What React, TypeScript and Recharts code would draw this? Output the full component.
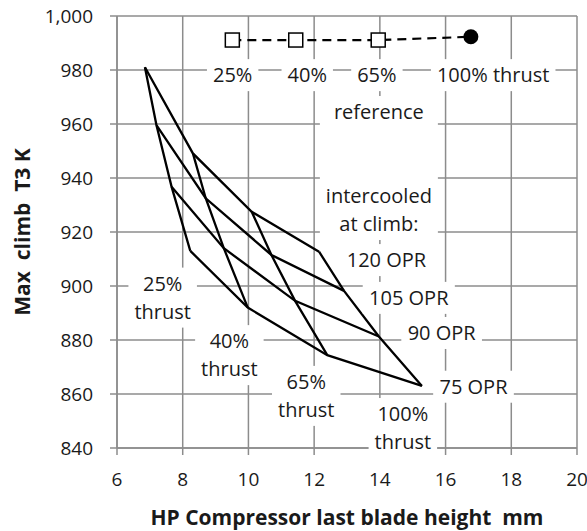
import { useLayoutEffect, useRef, useState } from "react";
import {
  ComposedChart,
  CartesianGrid,
  XAxis,
  YAxis,
  Line,
  ReferenceDot,
  Label,
} from "recharts";

// carpet nodes: blade height (mm) and max climb T3 (K), one row per OPR,
// columns are 25%, 40%, 65%, 100% thrust
const OPR_LEVELS = [120, 105, 90, 75];
const THRUST_LEVELS = ["25%", "40%", "65%", "100%"];

const blade120 = [6.85, 8.31, 10.1, 12.15];
const blade105 = [7.2, 8.7, 10.7, 12.91];
const blade90 = [7.66, 9.25, 11.42, 13.97];
const blade75 = [8.23, 9.98, 12.4, 15.28];

const t3_120 = [981.0, 949.1, 927.5, 912.7];
const t3_105 = [959.6, 932.5, 911.5, 898.2];
const t3_90 = [936.8, 914.0, 894.5, 881.3];
const t3_75 = [913.0, 892.0, 874.4, 863.0];

// reference (non intercooled) engine
const refBlade = [9.51, 11.44, 13.95, 16.77];
const refT3 = [991.1, 991.1, 991.1, 992.3];

const X_TICKS = [6, 8, 10, 12, 14, 16, 18, 20];
const Y_TICKS = [840, 860, 880, 900, 920, 940, 960, 980, 1000];

// annotations (anchored in data units)
const noteLines = [
  ["25%"],
  ["40%"],
  ["65%"],
  ["100% thrust"],
  ["reference", "", "", "intercooled", "at climb:"],
  ["120 OPR"],
  ["105 OPR"],
  ["90 OPR"],
  ["75 OPR"],
  ["25%", "thrust"],
  ["40%", "thrust"],
  ["65%", "thrust"],
  ["100%", "thrust"],
];
const noteX = [9.52, 11.79, 13.91, 17.45, 13.97, 14.2, 14.88, 15.88, 16.85, 7.39, 9.42, 11.76, 14.7];
const noteY = [978.1, 978.1, 978.1, 978.1, 943.7, 909.6, 895.6, 882.6, 862.7, 895.7, 874.4, 859.3, 847.4];

const GRID = "#8c8c8c";
const INK = "#1a1a1a";
const FS = 19;
const NOTE_FS = 20;
const LH = 28;

const bladeRows = [blade120, blade105, blade90, blade75];
const t3Rows = [t3_120, t3_105, t3_90, t3_75];

const oprLines = OPR_LEVELS.map((opr, i) => ({
  name: `${opr} OPR`,
  points: bladeRows[i].map((x, j) => ({ x, y: t3Rows[i][j] })),
}));

const thrustLines = THRUST_LEVELS.map((t, j) => ({
  name: `${t} thrust`,
  points: OPR_LEVELS.map((_, i) => ({ x: bladeRows[i][j], y: t3Rows[i][j] })),
}));

const refPoints = refBlade.map((x, i) => ({ x, y: refT3[i] }));

function NoteBox({ cx, cy, lines }: { cx: number; cy: number; lines: string[] }) {
  const ref = useRef<SVGTextElement>(null);
  const [w, setW] = useState(0);
  useLayoutEffect(() => {
    if (ref.current) setW(ref.current.getBBox().width);
  }, []);
  const n = lines.length;
  const h = n * LH + 4;
  const firstBase = cy - ((n - 1) * LH) / 2 + NOTE_FS * 0.36;
  return (
    <g>
      <rect x={cx - w / 2 - 6} y={cy - h / 2} width={w + 12} height={h} fill="#fff" />
      <text ref={ref} textAnchor="middle" fontSize={NOTE_FS} fill={INK}>
        {lines.map((s, k) => (
          <tspan key={k} x={cx} y={firstBase + k * LH}>
            {s}
          </tspan>
        ))}
      </text>
    </g>
  );
}

function RefMarker(props: any) {
  const { cx, cy, index } = props;
  if (index === refPoints.length - 1) {
    return <circle key={index} cx={cx} cy={cy} r={7.5} fill="#000" />;
  }
  return (
    <rect
      key={index}
      x={cx - 7}
      y={cy - 7}
      width={14}
      height={14}
      fill="#fff"
      stroke="#000"
      strokeWidth={1.5}
    />
  );
}

export default function App() {
  return (
    <div
      style={{
        position: "absolute",
        left: 0,
        top: 0,
        width: 587,
        height: 531,
        background: "#fff",
        fontFamily: '"Open Sans", sans-serif',
      }}
    >
      <ComposedChart width={587} height={531} margin={{ top: 16, right: 10, bottom: 0, left: 0 }}>
        <CartesianGrid stroke={GRID} strokeWidth={1.5} />
        <XAxis
          type="number"
          dataKey="x"
          domain={[6, 20]}
          ticks={X_TICKS}
          height={83}
          tickSize={7}
          tickMargin={18}
          axisLine={{ stroke: GRID, strokeWidth: 1.5 }}
          tickLine={{ stroke: GRID, strokeWidth: 1.5 }}
          tick={{ fontSize: FS, fill: INK }}
        >
          <Label
            value={"HP Compressor last blade height\u00a0 mm"}
            position="insideBottom"
            offset={6}
            style={{ fontSize: 21, fontWeight: 700, fill: INK }}
          />
        </XAxis>
        <YAxis
          type="number"
          dataKey="y"
          domain={[840, 1000]}
          ticks={Y_TICKS}
          width={117}
          tickSize={7}
          tickMargin={17}
          axisLine={{ stroke: GRID, strokeWidth: 1.5 }}
          tickLine={{ stroke: GRID, strokeWidth: 1.5 }}
          tick={{ fontSize: FS, fill: INK }}
          tickFormatter={(v: number) => v.toLocaleString("en-US")}
        >
          <Label
            value={"Max\u00a0 climb\u00a0 T3 K"}
            angle={-90}
            position="insideLeft"
            offset={23}
            style={{ fontSize: 21, fontWeight: 700, fill: INK, textAnchor: "middle" }}
          />
        </YAxis>

        {noteLines.map((lines, i) => (
          <ReferenceDot
            key={`note-${i}`}
            x={noteX[i]}
            y={noteY[i]}
            r={0}
            shape={(p: any) => <NoteBox cx={p.cx} cy={p.cy} lines={lines} />}
          />
        ))}

        {oprLines.map((s) => (
          <Line
            key={s.name}
            name={s.name}
            data={s.points}
            dataKey="y"
            stroke="#000"
            strokeWidth={2.3}
            dot={false}
            isAnimationActive={false}
          />
        ))}
        {thrustLines.map((s) => (
          <Line
            key={s.name}
            name={s.name}
            data={s.points}
            dataKey="y"
            stroke="#000"
            strokeWidth={2.3}
            dot={false}
            isAnimationActive={false}
          />
        ))}
        <Line
          name="reference"
          data={refPoints}
          dataKey="y"
          stroke="#000"
          strokeWidth={2.2}
          strokeDasharray="9 6"
          dot={RefMarker}
          isAnimationActive={false}
        />
      </ComposedChart>
    </div>
  );
}
